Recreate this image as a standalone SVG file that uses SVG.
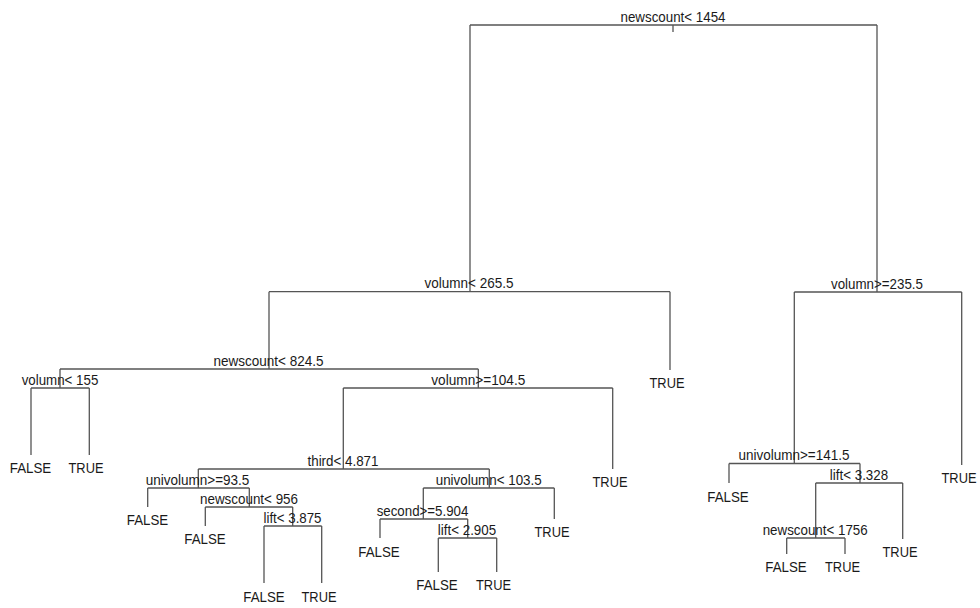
<svg xmlns="http://www.w3.org/2000/svg" width="980" height="608" viewBox="0 0 980 608">
<style>
text{font-family:"Liberation Sans",Arial,sans-serif;font-size:14.5px;fill:#1a1a1a;text-anchor:middle;}
.e{fill:none;stroke:#555;stroke-width:1.3;}
</style>
<rect width="980" height="608" fill="#fff"/>
<g id="connectors" class="e">
<path d="M470,25H877M470,25V291.7M877,25V292M673,25V32"/>
<path d="M269,291.7H670M269,291.7V369M670,291.7V370"/>
<path d="M60,369H478.3M60,369V388M478.3,369V388"/>
<path d="M31,388H89.3M31,388V455M89.3,388V455"/>
<path d="M343.3,388H612.7M343.3,388V469M612.7,388V469"/>
<path d="M198.3,469H489.3M198.3,469V488M489.3,469V488"/>
<path d="M147.7,488H249.3M147.7,488V507M249.3,488V507"/>
<path d="M205.3,507H292.7M205.3,507V526M292.7,507V526"/>
<path d="M264,526H321.7M264,526V583M321.7,526V583"/>
<path d="M423.3,488H554.3M423.3,488V519M554.3,488V519"/>
<path d="M380,519H467.7M380,519V538M467.7,519V538"/>
<path d="M438.3,538H496.7M438.3,538V572M496.7,538V572"/>
<path d="M794.3,292H961.7M794.3,292V463.5M961.7,292V465"/>
<path d="M729,463.5H860M729,463.5V483M860,463.5V483"/>
<path d="M815.7,483H902.7M815.7,483V538M902.7,483V539"/>
<path d="M786.7,538H845M786.7,538V554M845,538V554"/>
</g>
<g id="n_root"><text x="673" y="21.5" textLength="105" lengthAdjust="spacingAndGlyphs">newscount&lt; 1454</text></g>
<g id="n_A"><text x="469" y="288.2" textLength="89" lengthAdjust="spacingAndGlyphs">volumn&lt; 265.5</text></g>
<g id="n_B"><text x="877" y="288.5" textLength="92" lengthAdjust="spacingAndGlyphs">volumn&gt;=235.5</text></g>
<g id="n_C"><text x="268.5" y="365.5" textLength="110" lengthAdjust="spacingAndGlyphs">newscount&lt; 824.5</text></g>
<g id="n_D"><text x="667" y="388" textLength="35" lengthAdjust="spacingAndGlyphs">TRUE</text></g>
<g id="n_E"><text x="60" y="384.5" textLength="76.7" lengthAdjust="spacingAndGlyphs">volumn&lt; 155</text></g>
<g id="n_E1"><text x="30.5" y="473" textLength="41.5" lengthAdjust="spacingAndGlyphs">FALSE</text></g>
<g id="n_E2"><text x="86" y="473" textLength="35" lengthAdjust="spacingAndGlyphs">TRUE</text></g>
<g id="n_F"><text x="478.3" y="384.5" textLength="94" lengthAdjust="spacingAndGlyphs">volumn&gt;=104.5</text></g>
<g id="n_F2"><text x="610" y="487" textLength="35" lengthAdjust="spacingAndGlyphs">TRUE</text></g>
<g id="n_G"><text x="343" y="465.5" textLength="71" lengthAdjust="spacingAndGlyphs">third&lt; 4.871</text></g>
<g id="n_H"><text x="197.5" y="484.5" textLength="103.7" lengthAdjust="spacingAndGlyphs">univolumn&gt;=93.5</text></g>
<g id="n_H1"><text x="147.5" y="525" textLength="41.5" lengthAdjust="spacingAndGlyphs">FALSE</text></g>
<g id="n_J"><text x="249" y="503.5" textLength="98" lengthAdjust="spacingAndGlyphs">newscount&lt; 956</text></g>
<g id="n_J1"><text x="205" y="544" textLength="41.5" lengthAdjust="spacingAndGlyphs">FALSE</text></g>
<g id="n_K"><text x="292.5" y="522.5" textLength="58" lengthAdjust="spacingAndGlyphs">lift&lt; 3.875</text></g>
<g id="n_K1"><text x="264" y="601.5" textLength="41.5" lengthAdjust="spacingAndGlyphs">FALSE</text></g>
<g id="n_K2"><text x="319" y="601.5" textLength="35" lengthAdjust="spacingAndGlyphs">TRUE</text></g>
<g id="n_I"><text x="488.7" y="484.5" textLength="106" lengthAdjust="spacingAndGlyphs">univolumn&lt; 103.5</text></g>
<g id="n_I2"><text x="552" y="537" textLength="35" lengthAdjust="spacingAndGlyphs">TRUE</text></g>
<g id="n_L"><text x="422.5" y="515.5" textLength="91.7" lengthAdjust="spacingAndGlyphs">second&gt;=5.904</text></g>
<g id="n_L1"><text x="379" y="556.5" textLength="41.5" lengthAdjust="spacingAndGlyphs">FALSE</text></g>
<g id="n_M"><text x="467" y="534.5" textLength="58.3" lengthAdjust="spacingAndGlyphs">lift&lt; 2.905</text></g>
<g id="n_M1"><text x="437" y="590" textLength="41.5" lengthAdjust="spacingAndGlyphs">FALSE</text></g>
<g id="n_M2"><text x="493.5" y="590" textLength="35" lengthAdjust="spacingAndGlyphs">TRUE</text></g>
<g id="n_B2"><text x="959" y="483" textLength="35" lengthAdjust="spacingAndGlyphs">TRUE</text></g>
<g id="n_N"><text x="794" y="460" textLength="111" lengthAdjust="spacingAndGlyphs">univolumn&gt;=141.5</text></g>
<g id="n_N1"><text x="728" y="501.5" textLength="41.5" lengthAdjust="spacingAndGlyphs">FALSE</text></g>
<g id="n_O"><text x="859" y="479.5" textLength="58.3" lengthAdjust="spacingAndGlyphs">lift&lt; 3.328</text></g>
<g id="n_O2"><text x="900" y="557" textLength="35" lengthAdjust="spacingAndGlyphs">TRUE</text></g>
<g id="n_P"><text x="815.2" y="534.5" textLength="105" lengthAdjust="spacingAndGlyphs">newscount&lt; 1756</text></g>
<g id="n_P1"><text x="786" y="572" textLength="41.5" lengthAdjust="spacingAndGlyphs">FALSE</text></g>
<g id="n_P2"><text x="842.5" y="572" textLength="35" lengthAdjust="spacingAndGlyphs">TRUE</text></g>
</svg>
